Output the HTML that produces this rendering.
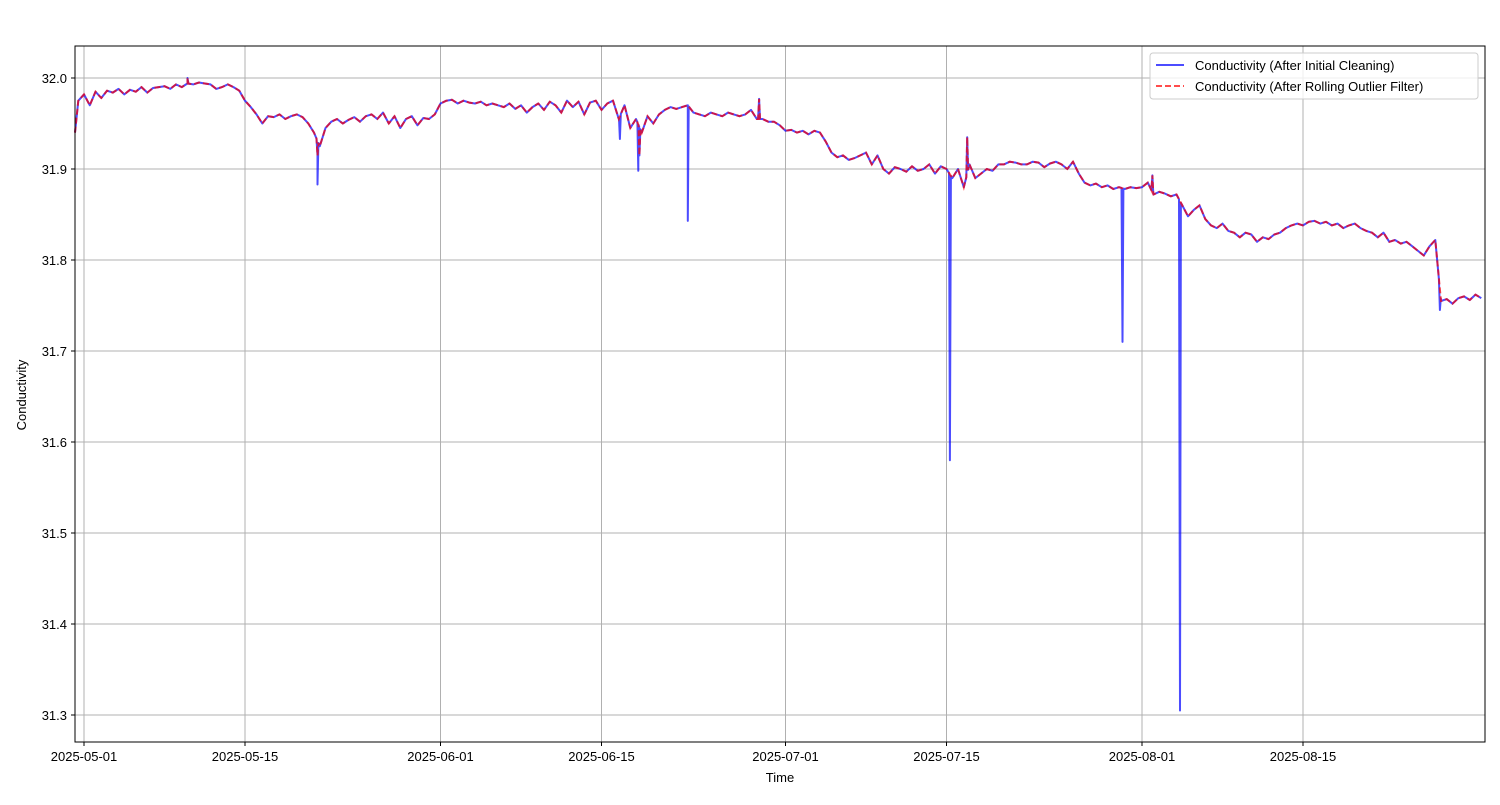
<!DOCTYPE html>
<html><head><meta charset="utf-8"><style>
body{margin:0;background:#fff;}
svg text{font-family:"Liberation Sans","DejaVu Sans",sans-serif;font-size:13px;fill:#000;}
</style></head><body>
<svg id="chart" width="1500" height="800" xmlns="http://www.w3.org/2000/svg">
<rect width="1500" height="800" fill="#fff"/>
<g id="grid"></g>
<g id="plot"></g>
<rect x="75" y="46" width="1410" height="696" fill="none" stroke="#000" stroke-width="1"/>
<g id="ticks"></g>
<text x="780" y="782" text-anchor="middle">Time</text>
<text transform="translate(26,395) rotate(-90)" text-anchor="middle">Conductivity</text>
<g>
<rect x="1150" y="53" width="328" height="46" rx="3" fill="#fff" fill-opacity="0.8" stroke="#ccc"/>
<line x1="1156" y1="65" x2="1184" y2="65" stroke="#0000ff" stroke-opacity="0.7" stroke-width="2"/>
<text x="1195" y="70">Conductivity (After Initial Cleaning)</text>
<line x1="1156" y1="86" x2="1184" y2="86" stroke="#ff0000" stroke-opacity="0.7" stroke-width="2" stroke-dasharray="6,3"/>
<text x="1195" y="91">Conductivity (After Rolling Outlier Filter)</text>
</g>
</svg>
<script>
const startDay = -0.5; // days from 2025-05-01, half-day step
const baseValues = [31.975,
31.982,31.97, 31.985,31.978, 31.986,31.984, 31.988,31.982, 31.987,31.985, 31.99,31.984, 31.989,31.99, 31.991,31.988, 31.993,31.99, 31.994,31.993,
31.995,31.994, 31.993,31.988, 31.99,31.993, 31.99,31.986, 31.975,31.968, 31.96,31.95, 31.958,31.957, 31.96,31.955, 31.958,31.96, 31.957,31.95,
31.94,31.925, 31.945,31.952, 31.955,31.95, 31.954,31.957, 31.952,31.958, 31.96,31.955, 31.962,31.95, 31.958,31.945, 31.955,31.958, 31.948,31.956,
31.955,31.96, 31.972,31.975, 31.976,31.972, 31.975,31.973, 31.972,31.974, 31.97,31.972, 31.97,31.968, 31.972,31.966, 31.97,31.962, 31.968,31.972,
31.965,31.974, 31.97,31.962, 31.975,31.968, 31.974,31.96, 31.973,31.975, 31.965,31.972, 31.975,31.955, 31.97,31.945, 31.955,31.94, 31.958,31.95,
31.96,31.965, 31.968,31.966, 31.968,31.97, 31.962,31.96, 31.958,31.962, 31.96,31.958, 31.962,31.96, 31.958,31.96, 31.965,31.955, 31.955,31.952,
31.952,31.948, 31.942,31.943, 31.94,31.942, 31.938,31.942, 31.94,31.93, 31.918,31.913, 31.915,31.91, 31.912,31.915, 31.918,31.905, 31.915,31.9,
31.895,31.902, 31.9,31.897, 31.903,31.898, 31.9,31.905, 31.895,31.903, 31.9,31.89, 31.9,31.88, 31.905,31.89, 31.895,31.9, 31.898,31.905,
31.905,31.908, 31.907,31.905, 31.905,31.908, 31.907,31.902, 31.906,31.908, 31.905,31.9, 31.908,31.895, 31.885,31.882, 31.884,31.88, 31.882,31.878,
31.88,31.878, 31.88,31.879, 31.88,31.885, 31.872,31.875, 31.873,31.87, 31.872,31.86, 31.848,31.855, 31.86,31.845, 31.838,31.835, 31.84,31.832,
31.83,31.825, 31.83,31.828, 31.82,31.825, 31.823,31.828, 31.83,31.835, 31.838,31.84, 31.838,31.842, 31.843,31.84, 31.842,31.838, 31.84,31.835,
31.838,31.84, 31.835,31.832, 31.83,31.825, 31.83,31.82, 31.822,31.818, 31.82,31.815, 31.81,31.805, 31.815,31.822, 31.755,31.757, 31.752,31.758,
31.76,31.756, 31.762,31.758];
const sharedSpikeDays = [9.0, 20.3, 48.3, 58.7, 76.8, 92.9];
const sharedSpikeValues = [32.0, 31.915, 31.915, 31.977, 31.935, 31.893];
const blueSpikeDays = [20.3, 46.6, 48.2, 52.5, 75.3, 90.3, 95.3, 117.9];
const blueSpikeValues = [31.883, 31.933, 31.898, 31.843, 31.58, 31.71, 31.305, 31.745];
const yTicks = [31.3, 31.4, 31.5, 31.6, 31.7, 31.8, 31.9, 32.0];
const xTickDays = [0, 14, 31, 45, 61, 75, 92, 106];
const xTickLabels = ["2025-05-01","2025-05-15","2025-06-01","2025-06-15","2025-07-01","2025-07-15","2025-08-01","2025-08-15"];

const NS = "http://www.w3.org/2000/svg";
const X = d => 84 + d * 11.5;
const Y = v => 78 + (32.0 - v) * 910;
function mk(tag, attrs, parent){const e=document.createElementNS(NS,tag);for(const k in attrs)e.setAttribute(k,attrs[k]);parent.appendChild(e);return e;}
const grid=document.getElementById('grid'), ticks=document.getElementById('ticks'), plot=document.getElementById('plot');
yTicks.forEach(v=>{
  const g=mk('line',{x1:75,x2:1485,y1:Y(v),y2:Y(v),stroke:'#b0b0b0','stroke-width':1},grid);
  
  
  mk('line',{x1:71,x2:75,y1:Y(v),y2:Y(v),stroke:'#000'},ticks);
  const t=mk('text',{x:67,y:Y(v)+5,'text-anchor':'end'},ticks);t.textContent=v.toFixed(1);
  
  
});
xTickDays.forEach((d,i)=>{
  const g=mk('line',{x1:X(d),x2:X(d),y1:46,y2:742,stroke:'#b0b0b0','stroke-width':1},grid);
  
  
  mk('line',{x1:X(d),x2:X(d),y1:742,y2:746,stroke:'#000'},ticks);
  const t=mk('text',{x:X(d),y:761,'text-anchor':'middle'},ticks);t.textContent=xTickLabels[i];
  
  
});
function baseAt(d){const f=(d-startDay)/0.5;const i=Math.max(0,Math.min(baseValues.length-2,Math.floor(f)));const r=f-i;return baseValues[i]*(1-r)+baseValues[i+1]*r;}
function buildPts(spD, spV){
  let pts=[[startDay-0.28,31.94]];
  baseValues.forEach((v,i)=>pts.push([startDay+i*0.5,v]));
  spD.forEach((d,i)=>{pts.push([d-0.08,baseAt(d-0.08)]);pts.push([d,spV[i]]);pts.push([d+0.08,baseAt(d+0.08)]);});
  pts.sort((a,b)=>a[0]-b[0]);
  return pts.filter(p=>X(p[0])<=1485).map(p=>X(p[0]).toFixed(1)+','+Y(p[1]).toFixed(1)).join(' ');
}
const blue=mk('polyline',{points:buildPts(sharedSpikeDays.concat(blueSpikeDays),sharedSpikeValues.concat(blueSpikeValues)),fill:'none',stroke:'#0000ff','stroke-opacity':0.7,'stroke-width':2,'stroke-linejoin':'round'},plot);


const red=mk('polyline',{points:buildPts(sharedSpikeDays,sharedSpikeValues),fill:'none',stroke:'#ff0000','stroke-opacity':0.7,'stroke-width':2,'stroke-dasharray':'6,3'},plot);


</script>
</body></html>
